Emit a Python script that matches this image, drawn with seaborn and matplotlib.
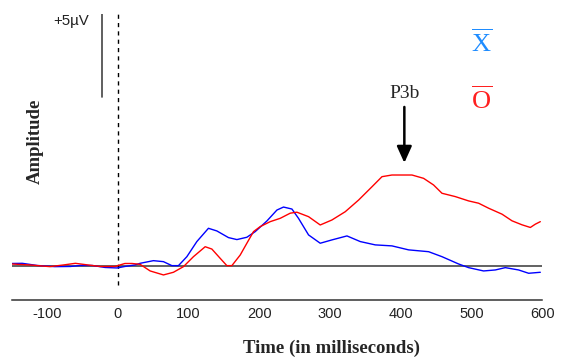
import matplotlib
matplotlib.use("Agg")
import matplotlib.pyplot as plt
import seaborn as sns
import pandas as pd

# ---- data ----
t_red = [-150, -124, -96, -77, -60, -42, -25, -4, 10, 20, 31.5, 45.7, 64.5, 78.6, 92.8,
         106.9, 123.5, 132.9, 144.7, 154.1, 161.2, 173.0, 182.4, 191.8, 201.2, 215.4, 229.5,
         243.7, 253.1, 269.6, 286.1, 302.6, 321.5, 340.3, 359.2, 373.4, 387.5, 415.8, 432.2,
         446.3, 458.2, 477.0, 495.8, 510.0, 524.1, 543.1, 557.2, 571.3, 583.1, 590.2, 597.2]
v_red = [0.10, 0.04, -0.06, 0.04, 0.14, 0.04, -0.05, -0.05, 0.13, 0.13, 0.08, -0.32, -0.56,
         -0.40, -0.06, 0.54, 1.14, 1.00, 0.44, 0.00, 0.00, 0.64, 1.35, 2.05, 2.35, 2.65, 2.85,
         3.16, 3.22, 2.95, 2.45, 2.75, 3.25, 3.95, 4.75, 5.36, 5.46, 5.46, 5.26, 4.86, 4.36,
         4.16, 3.90, 3.76, 3.46, 3.10, 2.70, 2.46, 2.30, 2.50, 2.65]

t_blue = [-150, -135, -114, -89, -67, -53, -36, -18, -1, 10, 24, 31.5, 50.3, 64.5, 76.4, 85.7,
          97.6, 111.7, 128.1, 140.0, 156.4, 168.3, 182.4, 194.2, 210.7, 224.9, 234.2, 246.1,
          255.4, 269.6, 286.1, 302.6, 323.9, 342.7, 363.9, 387.5, 411.0, 439.3, 458.2, 481.7,
          495.8, 517.0, 533.6, 547.7, 566.5, 580.7, 597.2]
v_blue = [0.13, 0.14, 0.01, -0.06, -0.05, 0.01, 0.01, -0.11, -0.14, -0.05, 0.04, 0.14, 0.30,
          0.24, 0.00, 0.00, 0.54, 1.45, 2.25, 2.09, 1.69, 1.57, 1.71, 2.05, 2.69, 3.35, 3.53,
          3.41, 2.85, 1.85, 1.35, 1.55, 1.79, 1.45, 1.25, 1.19, 0.95, 0.84, 0.54, 0.10, -0.12,
          -0.32, -0.26, -0.12, -0.26, -0.46, -0.40]

x_ticks = [-100, 0, 100, 200, 300, 400, 500, 600]
x_label = "Time (in milliseconds)"
y_label = "Amplitude"
scale_label = "+5µV"
scale_uv = 5
peak_label = "P3b"
peak_time = 405
legend_names = ["X", "O"]

# ---- styling ----
sns.set_style("white")
plt.rcParams["font.family"] = ["Liberation Sans", "DejaVu Sans"]
plt.rcParams["mathtext.fontset"] = "custom"
plt.rcParams["mathtext.rm"] = "Liberation Serif"

df = pd.concat([
    pd.DataFrame({"t": t_blue, "v": v_blue, "cond": legend_names[0]}),
    pd.DataFrame({"t": t_red, "v": v_red, "cond": legend_names[1]}),
], ignore_index=True)

fig = plt.figure(figsize=(5.61, 3.62), dpi=100)
W, H = 561, 362
ax = fig.add_axes([11.7 / W, 1 - 300 / H, 530.6 / W, 286 / H])

ax.axhline(0, color="#555555", lw=1.3, zorder=1)

sns.lineplot(data=df, x="t", y="v", hue="cond", palette={"X": "#0000ff", "O": "#ff0000"},
             estimator=None, sort=False, legend=False, lw=1.0, ax=ax, zorder=3)

ax.set_xlim(-150, 600)
ax.set_ylim(-2.07, 15.16)
ax.set_xticks(x_ticks)
ax.set_xticklabels([str(v) for v in x_ticks])
ax.set_yticks([])
for s in ["left", "right", "top"]:
    ax.spines[s].set_visible(False)
ax.spines["bottom"].set_color("#333333")
ax.spines["bottom"].set_linewidth(1.1)
ax.tick_params(axis="x", direction="in", length=8, width=1.1, color="#333333",
               pad=5, labelsize=10.5, labelcolor="#222222")

# stimulus onset dashed line
ax.plot([0, 0], [-1.16, 15.16], color="black", lw=1.0, ls=(0, (3, 3)), zorder=2)

# scale bar
ax.plot([-22.6, -22.6], [15.16 - scale_uv, 15.16], color="#444444", lw=1.2)
ax.text(-40.6, 14.75, scale_label, ha="right", va="center", fontsize=10.8, color="#222222")

# labels
ax.set_xlabel(x_label, family="Liberation Serif", fontsize=13.5, fontweight="bold")
ax.xaxis.set_label_coords(0.603, -0.168)
ax.xaxis.label.set_va("center")
ax.set_ylabel(y_label, family="Liberation Serif", fontsize=13.5, fontweight="bold")
ax.yaxis.set_label_coords(0.045, 0.556)
ax.yaxis.label.set_va("center")

# P3b arrow
ax.annotate("", xy=(peak_time, 6.19), xytext=(peak_time, 9.56),
            arrowprops=dict(arrowstyle="-|>,head_width=0.45,head_length=1.0",
                            color="black", lw=1.8, shrinkA=0, shrinkB=0))
ax.text(peak_time, 10.4, peak_label, family="Liberation Serif", fontsize=14,
        ha="center", va="center")

# legend labels with overline
ax.text(514, 13.4, r"$\overline{\mathrm{X}}$", color="#1e8cff", fontsize=19,
        ha="center", va="center")
ax.text(514, 9.98, r"$\overline{\mathrm{O}}$", color="#ff2020", fontsize=19,
        ha="center", va="center")

fig.savefig("out.png", dpi=100, facecolor="white")
